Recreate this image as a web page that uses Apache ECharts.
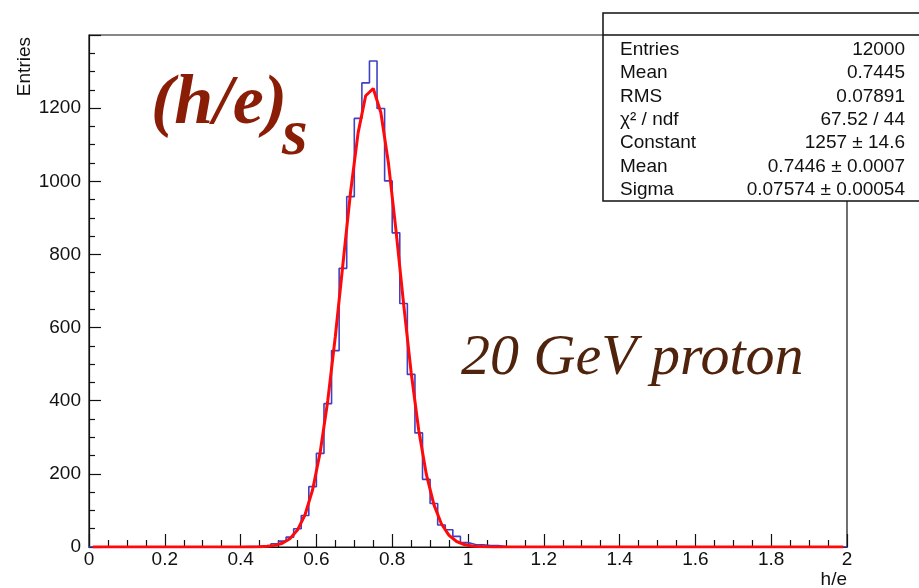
<!DOCTYPE html>
<html>
<head>
<meta charset="utf-8">
<title>h/e distribution, 20 GeV proton</title>
<script src="https://cdn.jsdelivr.net/npm/echarts@6/dist/echarts.min.js"></script>
<style>
  html, body { margin: 0; padding: 0; background: #fff; }
  #chart { width: 919px; height: 588px; }
</style>
</head>
<body>
<div id="chart"></div>
<script>
// Histogram of h/e: 100 bins on [0, 2], width 0.02; only the filled bins are listed.
const binLowEdges = [0.40, 0.42, 0.44, 0.46, 0.48, 0.50, 0.52, 0.54, 0.56, 0.58,
                     0.60, 0.62, 0.64, 0.66, 0.68, 0.70, 0.72, 0.74, 0.76, 0.78,
                     0.80, 0.82, 0.84, 0.86, 0.88, 0.90, 0.92, 0.94, 0.96, 0.98,
                     1.00, 1.02, 1.04, 1.06, 1.08];
const binCounts = [1, 1, 2, 3, 9, 16, 27, 50, 86, 165,
                   256, 392, 537, 762, 958, 1172, 1269, 1329, 1199, 1001,
                   859, 666, 472, 312, 185, 119, 60, 47, 29, 12,
                   7, 6, 4, 4, 1];
const binWidth = 0.02;
const histMin = 0;
const histMax = 2;

// Gaussian fit parameters (shown in the statistics panel)
const fitConstant = 1257;
const fitMean = 0.7446;
const fitSigma = 0.07574;
const fitPoints = 100;

// Statistics panel rows
const statLabels = ['Entries', 'Mean', 'RMS', 'χ² / ndf', 'Constant', 'Mean', 'Sigma'];
const statValues = ['12000', '0.7445', '0.07891', '67.52 / 44', '1257 ± 14.6', '0.7446 ± 0.0007', '0.07574 ± 0.00054'];

// Axis ticks
const xTickStep = 0.2;
const yTickStep = 200;
const yMax = 1400;

// Step outline of the histogram: each point is a bin's low edge and its content.
const histData = [[histMin, 0]];
binLowEdges.forEach((edge, i) => histData.push([edge, binCounts[i]]));
histData.push([+(binLowEdges[binLowEdges.length - 1] + binWidth).toFixed(2), 0]);
histData.push([histMax, 0]);

// Fitted Gaussian, evaluated at the centres of fitPoints steps across the axis range.
const fitData = [];
const fitStep = (histMax - histMin) / fitPoints;
for (let i = 0; i < fitPoints; i++) {
  const x = histMin + (i + 0.5) * fitStep;
  const z = (x - fitMean) / fitSigma;
  fitData.push([x, fitConstant * Math.exp(-0.5 * z * z)]);
}

const sans = '"Liberation Sans", Arial, Helvetica, sans-serif';
const serif = '"Liberation Serif", "Times New Roman", serif';

const gridLeft = 89, gridRight = 72, gridTop = 35, gridBottom = 41;
const W = 919, H = 588;

const statRowY0 = 49.5, statRowStep = 23.4;
const statGraphics = [
  { type: 'rect', shape: { x: 603, y: 13, width: 340, height: 188 },
    style: { fill: '#fff', stroke: '#111', lineWidth: 1.5 }, z: 10 },
  { type: 'line', shape: { x1: 603, y1: 35, x2: 919, y2: 35 },
    style: { stroke: '#111', lineWidth: 1.5 }, z: 11 }
];
statLabels.forEach((lab, i) => {
  const y = statRowY0 + i * statRowStep;
  statGraphics.push({ type: 'text', x: 620, y: y, z: 12,
    style: { text: lab, font: '19px ' + sans, fill: '#111', align: 'left', verticalAlign: 'middle' } });
  statGraphics.push({ type: 'text', x: 905, y: y, z: 12,
    style: { text: statValues[i], font: '19px ' + sans, fill: '#111', align: 'right', verticalAlign: 'middle' } });
});

const chart = echarts.init(document.getElementById('chart'), null, { renderer: 'canvas' });
chart.setOption({
  backgroundColor: '#fff',
  animation: false,
  grid: { left: gridLeft, right: gridRight, top: gridTop, bottom: gridBottom,
          show: true, borderColor: '#111', borderWidth: 1.2, backgroundColor: 'transparent' },
  xAxis: {
    type: 'value', min: histMin, max: histMax, interval: xTickStep,
    axisLine: { show: true, onZero: false, lineStyle: { color: '#111', width: 1.2 } },
    axisTick: { show: true, inside: true, length: 13, lineStyle: { color: '#111', width: 1.2 } },
    minorTick: { show: true, splitNumber: 4, length: 7, lineStyle: { color: '#111', width: 1.2 } },
    splitLine: { show: false },
    axisLabel: { color: '#111', fontFamily: sans, fontSize: 19, margin: 3,
                 formatter: v => String(+v.toFixed(2)) }
  },
  yAxis: {
    type: 'value', min: 0, max: yMax, interval: yTickStep,
    axisLine: { show: true, lineStyle: { color: '#111', width: 1.2 } },
    axisTick: { show: true, inside: true, length: 12, lineStyle: { color: '#111', width: 1.2 } },
    minorTick: { show: true, splitNumber: 4, length: 6, lineStyle: { color: '#111', width: 1.2 } },
    splitLine: { show: false },
    axisLabel: { color: '#111', fontFamily: sans, fontSize: 19, margin: 8,
                 showMaxLabel: false, formatter: v => String(v) }
  },
  series: [
    { name: 'h/e', type: 'line', step: 'end', data: histData, symbol: 'none',
      lineStyle: { color: '#4040c4', width: 1.6 }, z: 2 },
    { name: 'gaus', type: 'line', data: fitData, symbol: 'none', smooth: false,
      lineStyle: { color: '#ff0a0a', width: 3 }, z: 3 }
  ],
  graphic: [
    { type: 'text', x: 25, y: 37, rotation: Math.PI / 2, z: 5,
      style: { text: 'Entries', font: '19px ' + sans, fill: '#111', align: 'right', verticalAlign: 'middle' } },
    { type: 'text', x: W - gridRight, y: 580, z: 5,
      style: { text: 'h/e', font: '19px ' + sans, fill: '#111', align: 'right', verticalAlign: 'middle' } },
    { type: 'text', x: 151, y: 105, z: 5,
      style: { text: '(h/e)', font: 'italic bold 70px ' + serif, fill: '#8a1d06', align: 'left', verticalAlign: 'middle' } },
    { type: 'text', x: 282, y: 137, z: 5,
      style: { text: 's', font: 'italic bold 66px ' + serif, fill: '#8a1d06', align: 'left', verticalAlign: 'middle' } },
    { type: 'text', x: 461, y: 359, z: 5,
      style: { text: '20 GeV proton', font: 'italic 58px ' + serif, fill: '#4f230c', align: 'left', verticalAlign: 'middle' } }
  ].concat(statGraphics)
});
</script>
</body>
</html>
